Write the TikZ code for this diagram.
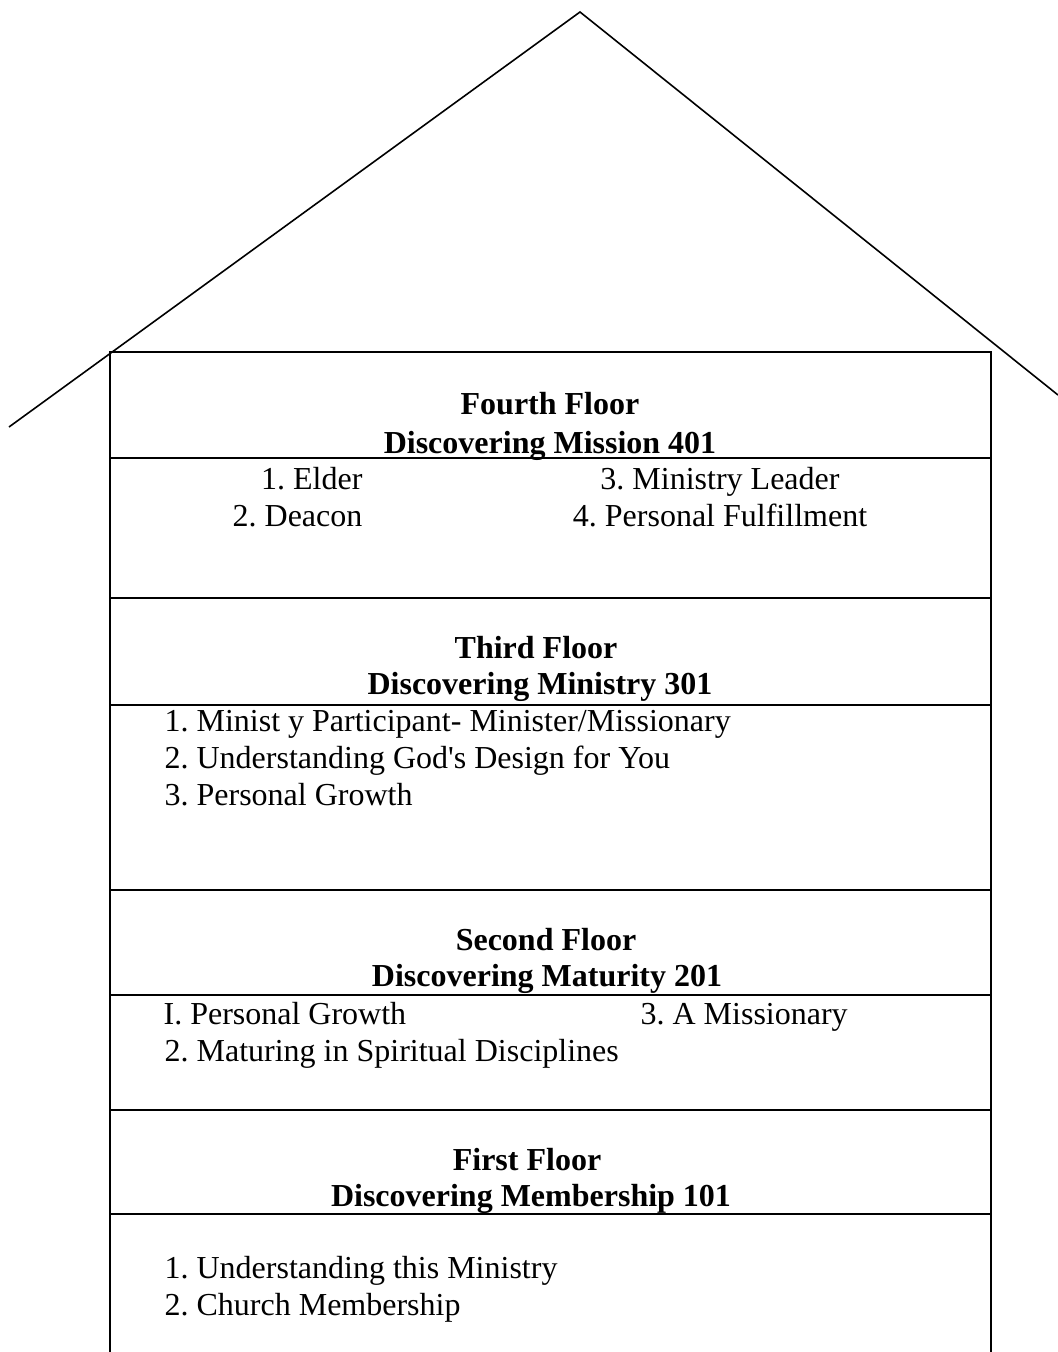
\documentclass[tikz,border=0pt]{standalone}
\usepackage{fontspec}
\setmainfont{Liberation Serif}
\frenchspacing
\begin{document}
\begin{tikzpicture}[x=0.5pt,y=-0.5pt,line width=0.6pt,inner sep=0pt,
		title/.style={font=\fontsize{16}{18.5}\selectfont\bfseries, anchor=base},
		item/.style={font=\fontsize{16}{18.5}\selectfont, anchor=base west},
		itemr/.style={font=\fontsize{16}{18.5}\selectfont, anchor=base east},
		itemc/.style={font=\fontsize{16}{18.5}\selectfont, anchor=base}]
		\useasboundingbox (0,0) rectangle (1058,1352);
		% ROOF
		\coordinate (apex) at (580,12);
		\coordinate (eaveL) at (9,427);
		\coordinate (eaveR) at (1058,395);
		\draw[line width=0.8pt] (eaveL) -- (apex) -- (eaveR);
		
		% BLOCKS
		\draw (110,1352) -- (110,352) -- (991,352) -- (991,1352);
		\draw (110,458) -- (991,458);
		\draw (110,598) -- (991,598);
		\draw (110,705) -- (991,705);
		\draw (110,890) -- (991,890);
		\draw (110,995) -- (991,995);
		\draw (110,1110) -- (991,1110);
		\draw (110,1214) -- (991,1214);
		
		% FOURTH FLOOR
		\node (f4a) [title] at (550,415) {Fourth Floor};
		\node (f4b) [title] at (550,453) {Discovering Mission 401};
		\node (f4i1) [itemr] at (363,489) {1. Elder};
		\node (f4i2) [itemr] at (363,526) {2. Deacon};
		\node (f4i3) [itemc] at (720,489) {3. Ministry Leader};
		\node (f4i4) [itemc] at (720,526) {4. Personal Fulfillment};
		
		% THIRD FLOOR
		\node (f3a) [title] at (536,658) {Third Floor};
		\node (f3b) [title] at (540,694) {Discovering Ministry 301};
		\node (f3i1) [item] at (164,731) {1. Minist y Participant- Minister/Missionary};
		\node (f3i2) [item] at (164,768) {2. Understanding God\textquotesingle s Design for You};
		\node (f3i3) [item] at (164,805) {3. Personal Growth};
		
		% SECOND FLOOR
		\node (f2a) [title] at (546,950) {Second Floor};
		\node (f2b) [title] at (547,986) {Discovering Maturity 201};
		\node (f2i1) [item] at (163,1024) {I. Personal Growth};
		\node (f2i3) [item] at (640,1024) {3. A Missionary};
		\node (f2i2) [item] at (164,1061) {2. Maturing in Spiritual Disciplines};
		
		% FIRST FLOOR
		\node (f1a) [title] at (527,1170) {First Floor};
		\node (f1b) [title] at (531,1206) {Discovering Membership 101};
		\node (f1i1) [item] at (164,1278) {1. Understanding this Ministry};
		\node (f1i2) [item] at (164,1315) {2. Church Membership};
	\end{tikzpicture}
\end{document}
